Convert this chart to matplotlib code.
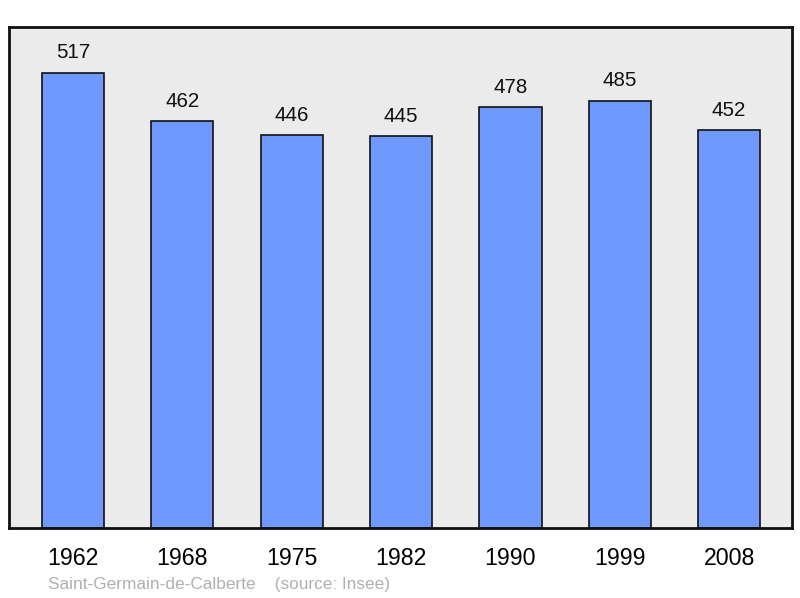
import matplotlib
matplotlib.use("Agg")
import matplotlib.pyplot as plt

years = ["1962", "1968", "1975", "1982", "1990", "1999", "2008"]
population = [517, 462, 446, 445, 478, 485, 452]

plt.rcParams['font.family'] = ['Liberation Sans', 'DejaVu Sans']

fig = plt.figure(figsize=(8, 5.98), dpi=100)
ax = fig.add_axes([9/800, 70/598, 783/800, 501/598])
ax.set_facecolor('#ebebeb')

x = list(range(len(years)))
bars = ax.bar(x, population, width=0.57, color='#7099ff', edgecolor='#111111', linewidth=1.2, zorder=2)
for xi, v in zip(x, population):
    ax.annotate(str(v), (xi, v), xytext=(0, 10.3), textcoords='offset points',
                ha='center', va='baseline', fontsize=14.8, color='#111111')

ax.set_xlim(-0.585, 6.575)
ax.set_ylim(0, max(population) * 1.1)
ax.set_xticks(x)
ax.set_xticklabels(years, fontsize=16.7)
ax.tick_params(axis='x', length=0, pad=14)
ax.set_yticks([])
for s in ax.spines.values():
    s.set_linewidth(2)
    s.set_color('#111111')

fig.text(48/800, 1 - 585/598, "Saint-Germain-de-Calberte    (source: Insee)",
         fontsize=12.4, color='#b0b0b0', va='center', ha='left')

fig.savefig('out.png', dpi=100)
